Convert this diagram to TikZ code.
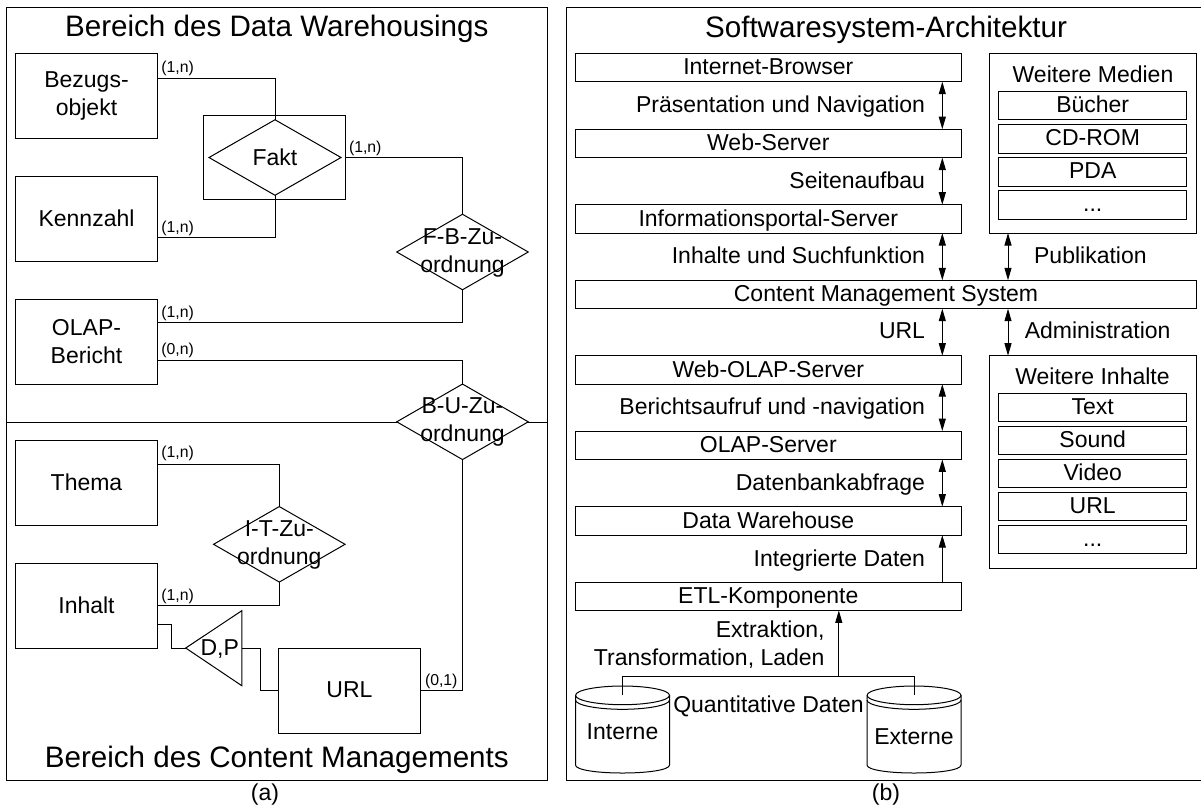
\documentclass[tikz,border=0pt]{standalone}
\usepackage{fontspec}
\setmainfont{Liberation Sans}
\usetikzlibrary{arrows.meta,shapes.geometric}
\newcommand{\fsbody}{\fontsize{23}{28}\selectfont}
\newcommand{\fstitle}{\fontsize{29.6}{34}\selectfont}
\newcommand{\fssmall}{\fontsize{15.8}{18}\selectfont}
\tikzset{
  x=1pt,y=-1pt,
  every path/.style={line width=1pt},
  base/.style={draw,inner sep=0pt,outer sep=0pt,font=\fsbody},
  ent/.style={base,fill=white,minimum width=141.5pt,minimum height=85pt,align=center},
  comp/.style={base,fill=white,minimum width=385.5pt,minimum height=28.4pt,text height=14.4pt,text depth=0pt},
  med/.style={base,fill=white,minimum width=188pt,minimum height=28.4pt,text height=13.6pt,text depth=0pt},
  panel/.style={base,fill=white,minimum width=207.2pt},
  rel/.style={base,diamond,fill=white,minimum width=131.5pt,minimum height=75.5pt},
  txt/.style={inner sep=0pt,outer sep=0pt,font=\fsbody,anchor=base},
  mtxt/.style={inner sep=0pt,outer sep=0pt,font=\fsbody,align=center},
  lab/.style={inner sep=0pt,outer sep=0pt,font=\fsbody,anchor=base east},
  ttl/.style={inner sep=0pt,outer sep=0pt,font=\fstitle,anchor=base},
  card/.style={inner sep=0pt,outer sep=0pt,font=\fssmall,anchor=base west},
  dbl/.style={{Triangle[width=7pt,length=12.5pt]}-{Triangle[width=7pt,length=12.5pt]}},
  sgl/.style={-{Triangle[width=7pt,length=12.5pt]}},
  drum/.pic={
    \draw (-47,9.3) -- (-47,79) .. controls (-47,84) and (-25,87) .. (0,87)
          .. controls (25,87) and (47,84) .. (47,79) -- (47,9.3);
    \draw (-47,9.35) .. controls (-47,4) and (-25,0) .. (0,0)
          .. controls (25,0) and (47,4) .. (47,9.35)
          .. controls (47,14.5) and (25,18.7) .. (0,18.7)
          .. controls (-25,18.7) and (-47,14.5) .. (-47,9.35);
    \draw (-47,14) .. controls (-47,19.2) and (-25,23.3) .. (0,23.3)
          .. controls (25,23.3) and (47,19.2) .. (47,14);
  }
}
\begin{document}
\begin{tikzpicture}
\useasboundingbox (0,0) rectangle (1201,807);
% frames
\node[base,minimum width=541pt,minimum height=773pt] (fa) at (277,393.5) {};
\draw (fa.west |- 0,422) coordinate (da) -- (fa.east |- 0,422) coordinate (db);
\node[ttl] (ta) at (276.8,36.5) {Bereich des Data Warehousings};
\node[ttl] (tc) at (276.8,767.5) {Bereich des Content Managements};
\node[txt] (capa) at (265,800) {(a)};

% entities
\node[ent] (bez) at (86.5,96) {Bezugs-\\objekt};
\node[ent] (ken) at (86.5,218.7) {};
\node[txt] (kent) at (86.5,226) {Kennzahl};
\node[ent] (ola) at (86.5,341.5) {OLAP-\\Bericht};
\node[ent] (the) at (86.5,483.2) {};
\node[txt] (thet) at (86.5,490.3) {Thema};
\node[ent] (inh) at (86.5,605.6) {};
\node[txt] (inht) at (86.5,613.7) {Inhalt};
\node[ent] (url) at (349.5,690.5) {};
\node[txt] (urlt) at (349.5,697.3) {URL};

% relationships
\node[base,minimum width=141.5pt,minimum height=84.5pt] (fbox) at (274.5,157.7) {};
\node[rel,minimum width=132pt] (fakt) at (275,157.5) {};
\node[txt] (faktt) at (275,165) {Fakt};
\node[rel] (fb) at (462.5,252) {};
\node[rel] (bu) at (462.5,421.8) {};
\node[rel] (it) at (279.3,544.3) {};
\node[mtxt] (fbt) at (462.5,252.5) {F-B-Zu-\\ordnung};
\node[mtxt] (but) at (462.5,422.3) {B-U-Zu-\\ordnung};
\node[mtxt] (itt) at (279.3,544.8) {I-T-Zu-\\ordnung};

% D,P triangle
\coordinate (tria) at (185.7,648);
\coordinate (trib) at (241.8,610.7);
\coordinate (tric) at (241.8,685.7);
\coordinate (trir) at (241.8,648);
\draw (tria) -- (trib) -- (tric) -- cycle;
\node[txt] (dp) at (219.7,655) {D,P};

% ER connectors
\draw ([yshift=-24.5pt]bez.north east) -| (fakt.north);
\draw ([yshift=23.3pt]ken.south east) -| (fakt.south);
\draw (fbox.east) -| (fb.north);
\draw ([yshift=-23.8pt]ola.north east) -| (fb.south);
\draw ([yshift=23.7pt]ola.south east) -| (bu.north);
\draw (url.east) -| (bu.south);
\draw ([yshift=-23.6pt]the.north east) -| (it.north);
\draw (inh.east) -| (it.south);
\draw ([yshift=-19.3pt]inh.east) -- ++(14.4,0) |- (tria);
\draw (trir) -- ++(19,0) |- (url.west);

% cardinalities
\node[card] (c1) at (161.4,72.4) {(1,n)};
\node[card] (c2) at (349,152.4) {(1,n)};
\node[card] (c3) at (161.4,232.1) {(1,n)};
\node[card] (c4) at (161.4,317.4) {(1,n)};
\node[card] (c5) at (161.4,354.8) {(0,n)};
\node[card] (c6) at (161.4,457.4) {(1,n)};
\node[card] (c7) at (161.4,600.1) {(1,n)};
\node[card] (c8) at (425,685.1) {(0,1)};

% right frame
\draw (1201,7) -- (566,7) -- (566,780) -- (1201,780);
\node[ttl] (tb) at (886,37.5) {Softwaresystem-Architektur};
\node[txt] (capb) at (886,800) {(b)};

% components
\node[comp] (ib) at (768.3,67.5) {Internet-Browser};
\node[comp] (ws) at (768.3,143.4) {Web-Server};
\node[comp] (ip) at (768.3,218.9) {Informationsportal-Server};
\node[comp,minimum width=621pt] (cms) at (886,294.5) {Content Management System};
\node[comp] (wo) at (768.3,369.9) {Web-OLAP-Server};
\node[comp] (os) at (768.3,445.2) {OLAP-Server};
\node[comp] (dw) at (768.3,520.9) {Data Warehouse};
\node[comp] (etl) at (768.3,596.2) {ETL-Komponente};

% media panels
\node[panel,minimum height=180pt] (wm) at (1092.9,143) {};
\node[txt] (wmt) at (1093,82.7) {Weitere Medien};
\node[med] (m1) at (1092.7,105.7) {Bücher};
\node[med] (m2) at (1092.7,138.9) {CD-ROM};
\node[med] (m3) at (1092.7,171.9) {PDA};
\node[med] (m4) at (1092.7,204.9) {...};
\node[panel,minimum height=212.6pt] (wi) at (1092.9,462) {};
\node[txt] (wit) at (1092.5,384.3) {Weitere Inhalte};
\node[med] (i1) at (1092.7,407.5) {Text};
\node[med] (i2) at (1092.7,440.5) {Sound};
\node[med] (i3) at (1092.7,473.5) {Video};
\node[med] (i4) at (1092.7,506.5) {URL};
\node[med] (i5) at (1092.7,539.7) {...};

% arrows
\coordinate (ax) at (942.3,0);
\coordinate (rx) at (1008,0);
\draw[dbl] (ib.south -| ax) -- (ws.north -| ax);
\draw[dbl] (ws.south -| ax) -- (ip.north -| ax);
\draw[dbl] (ip.south -| ax) -- (cms.north -| ax);
\draw[dbl] (cms.south -| ax) -- (wo.north -| ax);
\draw[dbl] (wo.south -| ax) -- (os.north -| ax);
\draw[dbl] (os.south -| ax) -- (dw.north -| ax);
\draw[sgl] (etl.north -| ax) -- (dw.south -| ax);
\draw[dbl] (wm.south -| rx) -- (cms.north -| rx);
\draw[dbl] (cms.south -| rx) -- (wi.north -| rx);

% arrow labels
\node[lab] (l1) at (925,112.7) {Präsentation und Navigation};
\node[lab] (l2) at (925,188.5) {Seitenaufbau};
\node[lab] (l3) at (925,263.8) {Inhalte und Suchfunktion};
\node[lab] (l4) at (925,338.8) {URL};
\node[lab] (l5) at (925,414.5) {Berichtsaufruf und -navigation};
\node[lab] (l6) at (925,490) {Datenbankabfrage};
\node[lab] (l7) at (925,566) {Integrierte Daten};
\node[mtxt,align=right,anchor=east] (l8) at (824.5,645) {Extraktion,\\Transformation, Laden};
\node[txt] (l9) at (768.5,712) {Quantitative Daten};
\node[txt] (l10) at (1090.4,263.8) {Publikation};
\node[txt] (l11) at (1097.6,338.8) {Administration};

% data stores
\pic at (622.5,686) {drum};
\pic at (914,686) {drum};
\coordinate (din) at (622.5,695.3);
\coordinate (dex) at (914,695.3);
\coordinate (dj) at (838.8,676.7);
\node[txt] (ni) at (622.5,739.3) {Interne};
\node[txt] (ne) at (914,744.3) {Externe};
\draw (din) |- (dj) -| (dex);
\draw[sgl] (dj) -- (etl.south -| dj);
\end{tikzpicture}
\end{document}
